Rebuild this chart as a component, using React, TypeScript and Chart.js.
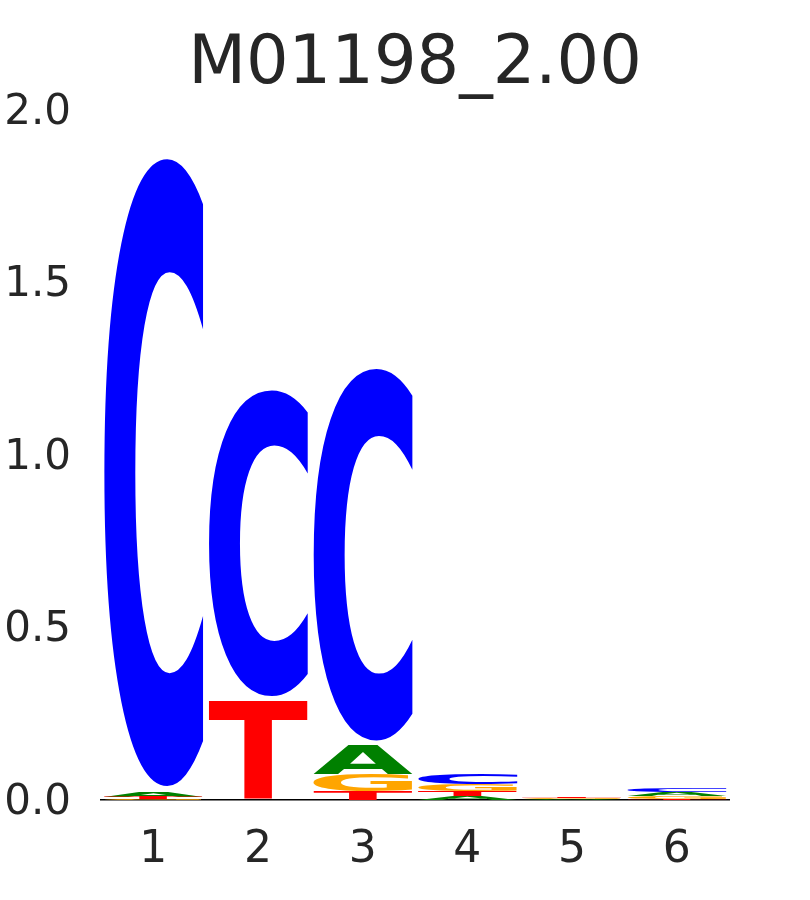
import React, { useEffect, useRef } from 'react';
import { Chart, registerables } from 'chart.js';

Chart.register(...registerables);

const TITLE = 'M01198_2.00';
const POSITIONS = ['1', '2', '3', '4', '5', '6'];
const LETTERS = ['A', 'C', 'G', 'T'];
// information content (bits) of each letter at each position
const HEIGHT_A = [0.015, 0.001, 0.082, 0.011, 0.002, 0.011];
const HEIGHT_C = [1.84, 0.904, 1.096, 0.032, 0.001, 0.012];
const HEIGHT_G = [0.002, 0.001, 0.049, 0.018, 0.002, 0.009];
const HEIGHT_T = [0.007, 0.284, 0.026, 0.016, 0.003, 0.004];
const Y_TICKS = [0, 0.5, 1.0, 1.5, 2.0];
const COLORS: Record<string, string> = { A: '#008000', C: '#0000ff', G: '#ffa500', T: '#ff0000' };

const HEIGHTS: Record<string, number[]> = { A: HEIGHT_A, C: HEIGHT_C, G: HEIGHT_G, T: HEIGHT_T };

const TEXT_COLOR = '#262626';
const FONT = '"DejaVu Sans", "Liberation Sans", sans-serif';

function buildStacks() {
  const ranges: Record<string, [number, number][]> = { A: [], C: [], G: [], T: [] };
  POSITIONS.forEach((_, j) => {
    const order = [...LETTERS].sort((a, b) => HEIGHTS[a][j] - HEIGHTS[b][j]);
    let acc = 0;
    order.forEach((l) => {
      const h = HEIGHTS[l][j];
      ranges[l][j] = [acc, acc + h];
      acc += h;
    });
  });
  return ranges;
}

const glyphPlugin = {
  id: 'logoGlyphs',
  afterDatasetsDraw(chart: any) {
    const ctx: CanvasRenderingContext2D = chart.ctx;
    const area = chart.chartArea;
    chart.data.datasets.forEach((ds: any, i: number) => {
      const meta = chart.getDatasetMeta(i);
      const letter = ds.label as string;
      meta.data.forEach((el: any) => {
        const p = el.getProps(['x', 'y', 'base', 'width'], true);
        let top = Math.min(p.y, p.base);
        let bottom = Math.max(p.y, p.base);
        const left = p.x - p.width / 2;
        const w = p.width;
        if (bottom - top > 60 && bottom < area.bottom - 1) bottom -= 5;
        const h = bottom - top;
        if (h <= 0.2) return;
        ctx.save();
        ctx.font = `bold 200px ${FONT}`;
        ctx.textAlign = 'left';
        ctx.textBaseline = 'alphabetic';
        const m = ctx.measureText(letter);
        const gw = m.actualBoundingBoxLeft + m.actualBoundingBoxRight;
        const gh = m.actualBoundingBoxAscent + m.actualBoundingBoxDescent;
        ctx.translate(left, top);
        ctx.scale(w / gw, h / gh);
        ctx.fillStyle = COLORS[letter];
        ctx.fillText(letter, m.actualBoundingBoxLeft, m.actualBoundingBoxAscent);
        ctx.restore();
      });
    });
  },
};

const titlePlugin = {
  id: 'centeredTitle',
  afterDraw(chart: any) {
    const ctx: CanvasRenderingContext2D = chart.ctx;
    const area = chart.chartArea;
    ctx.save();
    ctx.font = `normal 67px ${FONT}`;
    ctx.fillStyle = TEXT_COLOR;
    ctx.textAlign = 'center';
    ctx.textBaseline = 'alphabetic';
    ctx.fillText(TITLE, (area.left + area.right) / 2, area.top - 27);
    ctx.restore();
  },
};

export default function App() {
  const ref = useRef<HTMLCanvasElement | null>(null);
  useEffect(() => {
    if (!ref.current) return;
    const ranges = buildStacks();
    const chart = new Chart(ref.current, {
      type: 'bar',
      data: {
        labels: POSITIONS,
        datasets: LETTERS.map((l) => ({
          label: l,
          data: ranges[l] as any,
          backgroundColor: 'rgba(0,0,0,0)',
          borderWidth: 0,
          grouped: false,
          barPercentage: 0.95,
          categoryPercentage: 1,
        })),
      },
      options: {
        animation: false,
        responsive: false,
        events: [],
        layout: { padding: { top: 110, left: 0, right: 81, bottom: 0 } },
        plugins: {
          legend: { display: false },
          tooltip: { enabled: false },
          title: { display: false },
        },
        scales: {
          x: {
            type: 'category',
            offset: true,
            grid: { display: false, drawTicks: false },
            border: { display: true, color: '#000000', width: 1.5 },
            afterFit: (s: any) => {
              s.height = 100;
            },
            ticks: { color: TEXT_COLOR, font: { family: FONT, size: 44 }, padding: 24 },
          },
          y: {
            type: 'linear',
            min: 0,
            max: 2,
            grid: { display: false, drawTicks: false },
            border: { display: false },
            afterFit: (s: any) => {
              s.width = 101;
            },
            afterBuildTicks: (s: any) => {
              s.ticks = Y_TICKS.map((v) => ({ value: v }));
            },
            ticks: {
              color: TEXT_COLOR,
              font: { family: FONT, size: 42 },
              padding: 30,
              labelOffset: 3,
              callback: (v: any) => Number(v).toFixed(1),
            },
          },
        },
      },
      plugins: [glyphPlugin, titlePlugin],
    });
    return () => chart.destroy();
  }, []);
  return (
    <div style={{ position: 'absolute', left: 0, top: 0, width: 810, height: 900, background: '#fff' }}>
      <canvas ref={ref} width={810} height={900} />
    </div>
  );
}
